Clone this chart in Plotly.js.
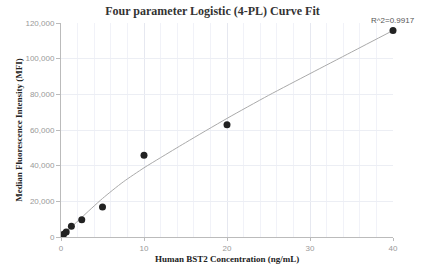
<!DOCTYPE html>
<html>
<head>
<meta charset="utf-8">
<script src="https://cdn.plot.ly/plotly-3.0.1.min.js"></script>
<style>html,body{margin:0;padding:0;background:#fff;}#chart{width:425px;height:270px;}</style>
</head>
<body>
<div id="chart"></div>
<script>
// Measured standards
var concentration = [0.3125, 0.625, 1.25, 2.5, 5, 10, 20, 40];
var mfi = [1500, 2800, 6000, 9700, 16800, 45800, 63000, 115800];
// Fitted 4-PL curve
var curveX = [0, 1.25, 2.5, 5, 7.5, 10, 12, 15, 20, 25, 30, 35, 40];
var curveY = [300, 5600, 11000, 21600, 30900, 38800, 44500, 52900, 66500, 79400, 91600, 103700, 115800];
var r2Label = "R^2=0.9917";
var xTitle = "Human BST2 Concentration (ng/mL)";
var xTicks = [0, 10, 20, 30, 40];
var yTicks = [0, 20000, 40000, 60000, 80000, 100000, 120000];

var traces = [
  {x: curveX, y: curveY, type: 'scatter', mode: 'lines', line: {color: '#aaaaaa', width: 1, shape: 'spline', smoothing: 0.7}, hoverinfo: 'skip'},
  {x: concentration, y: mfi, type: 'scatter', mode: 'markers', marker: {color: '#222222', size: 7}, cliponaxis: false}
];
var layout = {
  width: 425, height: 270,
  margin: {l: 61, r: 32, t: 23, b: 33},
  showlegend: false,
  paper_bgcolor: '#fff', plot_bgcolor: '#fff',
  title: {text: 'Four parameter Logistic (4-PL) Curve Fit', x: 0.5, xanchor: 'center', y: 0.975, yanchor: 'top',
    font: {family: 'Liberation Serif, Times New Roman, serif', size: 12, color: '#333', weight: 'bold'}},
  xaxis: {
    range: [0, 40], tickvals: xTicks, ticktext: xTicks.map(String),
    showline: true, linecolor: '#bbbbbb', linewidth: 1,
    ticks: 'outside', ticklen: 3, tickcolor: '#bbbbbb',
    showgrid: true, gridcolor: '#e6e8f0', zeroline: false,
    minor: {dtick: 2, showgrid: true, gridcolor: '#f1f2f8'},
    tickfont: {family: 'Liberation Sans, Arial, sans-serif', size: 8, color: '#999'}
  },
  yaxis: {
    range: [0, 120000], tickvals: yTicks, ticktext: yTicks.map(function(v){return v.toLocaleString('en-US');}),
    showline: true, linecolor: '#bbbbbb', linewidth: 1,
    ticks: 'outside', ticklen: 4, tickcolor: '#bbbbbb',
    showgrid: true, gridcolor: '#eceef4', zeroline: false,
    tickfont: {family: 'Liberation Sans, Arial, sans-serif', size: 8, color: '#999'},
    title: {text: 'Median Fluorescence Intensity (MFI)', standoff: 1,
      font: {family: 'Liberation Serif, Times New Roman, serif', size: 9, color: '#222', weight: 'bold'}}
  },
  annotations: [
    {x: concentration[concentration.length-1], y: mfi[mfi.length-1], xref: 'x', yref: 'y', text: r2Label,
      showarrow: false, xanchor: 'center', yanchor: 'bottom', yshift: 3,
      font: {family: 'Liberation Sans, Arial, sans-serif', size: 8, color: '#555'}},
    {x: 0.5, y: 0, xref: 'paper', yref: 'paper', text: xTitle, showarrow: false,
      xanchor: 'center', yanchor: 'middle', yshift: -22,
      font: {family: 'Liberation Serif, Times New Roman, serif', size: 9, color: '#222', weight: 'bold'}}
  ]
};
Plotly.newPlot('chart', traces, layout, {displayModeBar: false, staticPlot: true});
</script>
</body>
</html>
